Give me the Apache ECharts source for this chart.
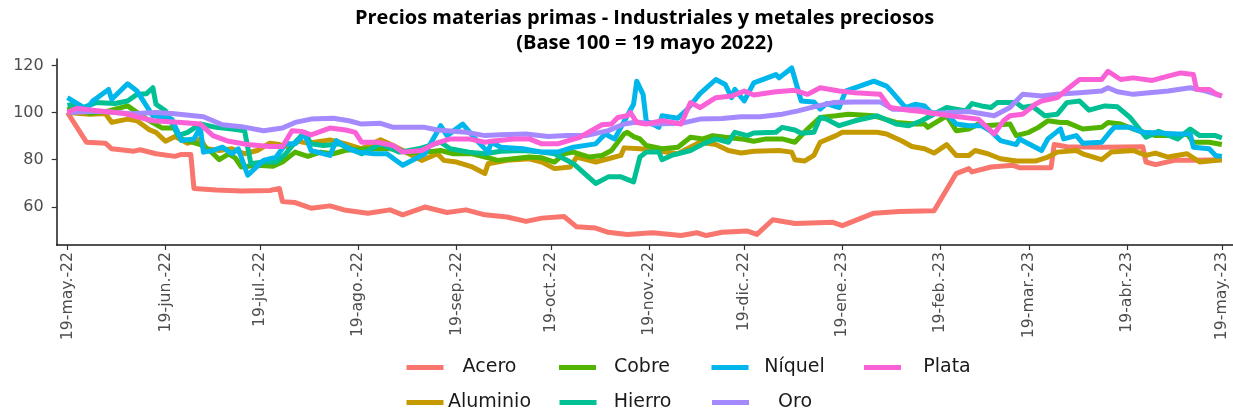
<!DOCTYPE html>
<html>
<head>
<meta charset="utf-8">
<title>Precios materias primas</title>
<script src="https://cdn.jsdelivr.net/npm/echarts@6/dist/echarts.min.js"></script>
<style>
  html, body { margin: 0; padding: 0; background: #ffffff; }
  #chart { width: 1233px; height: 415px; }
</style>
</head>
<body>
<div id="chart"></div>
<script>
// Índices de precios (base 100 = 19 mayo 2022).
// Cada punto: [días desde el 19-may-2022, índice]
const BASE_DATE = '2022-05-19';

const acero = [[0,100],[6,87.4],[12,87],[14,84.6],[21,83.6],[23,84.2],[28,82.5],[34,81.4],[36,82.2],[39,82.2],
  [40,67.8],[47,67.1],[55,66.7],[64,66.9],[67,67.8],[68,62.2],[72,61.8],[77,59.4],[83,60.4],[88,58.5],
  [95,57.3],[102,58.7],[106,56.6],[113,59.9],[120,57.6],[126,58.7],[132,56.6],[139,55.7],[145,53.8],[150,55.2],
  [157,55.9],[161,51.5],[167,51],[171,49.2],[177,48.3],[185,49],[194,47.8],[199,49],[202,47.8],[207,49.2],
  [215,49.7],[218,48.3],[223,54.5],[230,52.9],[242,53.4],[245,52],[255,57.3],[263,58],[274,58.3],[281,74.1],
  [285,76.2],[286,74.8],[292,76.9],[299,77.6],[301,76.6],[311,76.6],[312,86.4],[316,85.5],[327,85.3],[340,85.5],
  [341,79],[344,77.9],[350,79.7],[356,79.7],[365,80]];

const aluminio = [[0,100],[7,99.3],[12,99.6],[14,95.8],[19,97.2],[22,96.5],[26,92.6],[28,91.6],[31,87.8],[34,89.8],
  [38,87],[42,88.8],[44,84.6],[48,83.9],[52,84.6],[56,82.5],[60,83.9],[64,87],[67,86.4],[70,85.3],
  [73,87.8],[76,87],[83,88.4],[88,86.7],[93,84.6],[99,88.4],[103,86],[108,82.5],[112,79.7],[117,82.5],
  [119,79.7],[123,79],[128,76.9],[132,74.1],[133,78.3],[139,79.7],[146,80.4],[150,79],[154,76.2],[159,76.9],
  [161,81.1],[167,79],[171,80.4],[175,81.8],[176,85],[181,84.6],[186,83.9],[193,82.5],[196,84.6],[200,87.4],
  [205,86.4],[209,83.9],[213,82.8],[217,83.6],[225,83.9],[229,83.2],[230,80],[233,79.4],[236,81.8],[238,87.4],
  [243,90.2],[245,91.6],[256,91.6],[259,90.9],[264,87.8],[267,85.6],[271,84.6],[274,82.8],[278,86.4],[281,81.8],
  [285,81.8],[287,83.9],[291,82.5],[295,80.4],[300,79.4],[306,79.4],[310,81.1],[313,83.2],[319,83.9],[321,82.5],
  [327,80],[330,83.2],[337,83.9],[341,81.8],[344,82.8],[348,81.1],[354,82.5],[358,79],[365,80]];

const cobre = [[0,101],[2,102.1],[7,99.6],[13,100.7],[19,102.8],[25,97.2],[30,93.4],[34,93.4],[36,88.8],[42,86.4],
  [45,83.9],[48,80],[51,82.5],[53,80.8],[55,76.9],[60,77.6],[65,77.2],[68,79],[72,83.2],[76,81.4],
  [80,83.2],[84,82.5],[88,84],[95,84.6],[104,84.6],[108,82.8],[113,83.2],[118,83.9],[122,82.5],[128,82.5],
  [133,80.8],[136,79.7],[141,80.4],[146,81.1],[150,80.8],[154,79],[157,82.5],[160,83.2],[165,81.1],[169,81.8],
  [172,83.9],[176,90.9],[177,91.6],[179,89.8],[181,88.8],[183,86],[188,84.6],[193,85.3],[197,89.5],[201,88.8],
  [204,90.2],[208,89.5],[213,88.8],[217,87.8],[221,88.8],[226,88.8],[230,87.4],[234,93],[238,97.9],[243,98.6],
  [247,99.3],[255,98.6],[262,95.8],[268,95.1],[271,95.1],[272,93.7],[278,98.6],[281,92.3],[285,93],[288,95.1],
  [290,94.4],[298,95.1],[300,90.2],[304,91.6],[307,93.7],[310,96.5],[314,95.8],[316,95.8],[321,93],[327,93.7],
  [329,95.8],[333,95.1],[337,93],[344,90.2],[351,90.2],[354,90.9],[356,87.4],[361,87.4],[365,86.4]];

const hierro = [[0,103],[2,103.5],[5,102.1],[9,104.2],[15,103.8],[19,104.9],[22,107.7],[25,108],[27,110.5],[28,103.5],
  [31,100.7],[35,90.2],[38,91.6],[42,95.1],[47,93.7],[52,93],[56,92.3],[58,78.3],[62,79],[66,79],
  [69,82.5],[72,87.4],[75,91.6],[77,86.7],[81,86],[86,86.7],[93,82.5],[99,86.7],[105,83.2],[111,84.6],
  [118,87.4],[121,84.6],[127,83.2],[132,82.5],[137,83.6],[144,83.9],[150,83.2],[154,82.5],[160,78.3],[167,69.9],
  [171,72.7],[175,72.7],[179,70.6],[181,81.1],[183,83.2],[187,83.2],[188,80],[191,81.8],[197,83.9],[201,86.7],
  [205,88.8],[209,87.4],[211,91.6],[215,90.2],[217,91.3],[224,91.6],[226,93.7],[230,92.6],[232,91.2],[236,91.6],
  [238,97.9],[240,97.2],[244,94.4],[249,96.5],[256,98.6],[262,95.1],[266,94.4],[270,96.5],[273,98.6],[278,102.1],
  [284,100.7],[286,103.8],[289,102.8],[292,102.1],[294,104.2],[300,104.2],[302,102.1],[305,102.8],[309,98.6],[313,99.3],
  [316,104.2],[320,104.9],[323,101],[328,102.8],[332,102.4],[336,97.9],[341,89.5],[345,92],[351,88.8],[355,93],
  [358,90.2],[363,90.2],[365,89.2]];

const niquel = [[0,106.3],[6,101.4],[8,104.9],[13,109.8],[14,105.6],[19,112.2],[22,109.1],[27,98.6],[31,97.9],[33,97.2],
  [36,88.1],[40,88.8],[42,93.7],[43,83.2],[46,83.9],[49,85.3],[52,82.5],[54,84.6],[57,73.4],[62,79.7],
  [66,81.1],[69,86.7],[72,86.7],[75,90.9],[77,83.9],[83,81.8],[85,88.1],[89,84.6],[92,83.2],[97,82.5],
  [101,82.5],[106,77.6],[113,82.5],[118,94.4],[120,90.2],[125,95.1],[129,88.8],[133,83.2],[134,87.4],[137,85.3],
  [144,84.6],[150,83.2],[155,83.2],[160,85.3],[167,86.7],[170,90.9],[173,88.8],[177,98.6],[179,103.5],[180,113.3],
  [182,107.7],[183,96.5],[187,93.7],[188,98.6],[193,97.6],[196,101.4],[200,108],[205,114],[208,111.9],[210,106.3],
  [211,109.8],[214,104.9],[217,112.6],[224,116.1],[225,114.7],[229,118.9],[232,104.9],[236,104.5],[238,101.4],[240,103.8],
  [244,102.1],[246,109.1],[255,113.3],[259,111.2],[260,109.8],[265,102.1],[268,103.5],[271,102.8],[273,100],[278,99.3],
  [281,95.1],[285,94.4],[289,94.4],[292,92],[295,88.1],[300,86.4],[301,88.8],[308,83.9],[310,88.8],[313,92],
  [314,93],[315,88.8],[319,90.2],[321,87],[327,87.4],[330,92.3],[331,93.7],[336,93.7],[340,91.6],[351,90.9],
  [355,90.9],[356,85.3],[361,84.6],[363,81.8],[365,81.4]];

const oro = [[0,100],[10,100.5],[20,99.5],[28,100],[33,99.6],[43,98.2],[49,94.8],[55,94],[62,92.3],[68,93.4],
  [72,95.8],[77,97.2],[84,97.6],[89,96.5],[93,95.1],[99,95.4],[103,93.7],[113,93.7],[117,92.6],[126,91.6],
  [132,90.2],[137,90.6],[145,90.9],[152,89.8],[158,90.2],[164,90.2],[171,92.3],[176,95.1],[180,96],[185,95.1],
  [194,95.4],[200,97.2],[207,97.5],[213,98.2],[219,98.2],[226,99.3],[231,100.7],[236,102.4],[242,104.2],[249,104.5],
  [257,104.5],[261,101.4],[269,101.4],[273,99.6],[285,100.4],[293,98.6],[298,102.1],[302,107.7],[308,107],[313,107.7],
  [320,108.4],[327,109.1],[329,110.5],[332,108.8],[337,107.7],[348,109.1],[355,110.5],[360,109.1],[365,107]];

const plata = [[0,100],[3,101.8],[10,100.7],[18,99.6],[27,96.5],[36,95.8],[42,95.1],[46,90.2],[51,87.8],[57,86.4],
  [64,85.6],[68,85.6],[71,92.3],[74,92],[77,90.5],[83,93.4],[88,92.6],[91,91.6],[93,87.4],[98,87.4],
  [103,86],[106,83.2],[112,83.9],[116,86.7],[121,88.8],[127,88.8],[132,87.4],[134,87.8],[141,88.8],[146,88.8],
  [150,86.7],[155,86.7],[162,89.5],[169,94.8],[172,95.1],[174,97.9],[177,98.6],[178,100],[180,95.8],[183,95.1],
  [188,96.5],[194,95.1],[197,104.2],[200,102.1],[205,106.3],[210,107],[214,109.1],[217,107.4],[224,108.8],[230,109.4],
  [234,107.7],[238,110.5],[244,109.1],[249,108.4],[257,107.7],[260,102.1],[266,101],[270,100.4],[279,98.6],[288,97.2],
  [293,90.9],[296,96.5],[298,98.6],[302,99.3],[306,103.5],[308,104.9],[313,106.3],[316,109.8],[320,114],[327,114],
  [329,117.5],[333,114],[337,114.7],[343,113.6],[348,115.4],[352,116.8],[356,116.1],[357,109.8],[361,109.8],[363,108],
  [365,107]];

// Marcas del eje X (día 19 de cada mes) y sus etiquetas
const tickDates = ['2022-05-19','2022-06-19','2022-07-19','2022-08-19','2022-09-19','2022-10-19','2022-11-19',
  '2022-12-19','2023-01-19','2023-02-19','2023-03-19','2023-04-19','2023-05-19'];
const tickLabels = ['19-may.-22','19-jun.-22','19-jul.-22','19-ago.-22','19-sep.-22','19-oct.-22','19-nov.-22',
  '19-dic.-22','19-ene.-23','19-feb.-23','19-mar.-23','19-abr.-23','19-may.-23'];
const yTicks = [60, 80, 100, 120];

const names = ['Acero', 'Aluminio', 'Cobre', 'Hierro', 'Níquel', 'Oro', 'Plata'];
const colors = ['#F8766D', '#C49A00', '#53B400', '#00C094', '#00B6EB', '#A58AFF', '#FB61D7'];
const seriesData = [acero, aluminio, cobre, hierro, niquel, oro, plata];

// El eje X trabaja en días transcurridos desde la fecha base
const DAY_MS = 86400000;
const base = Date.parse(BASE_DATE);
const tickDays = tickDates.map(s => Math.round((Date.parse(s) - base) / DAY_MS));

const axisFont = 'DejaVu Sans';
const labelColor = '#4D4D4D';

const chart = echarts.init(document.getElementById('chart'), null, { renderer: 'canvas' });

const legendCommon = {
  orient: 'horizontal',
  left: 401.5,
  icon: 'rect',
  itemWidth: 37,
  itemHeight: 5,
  itemGap: 28.5,
  selectedMode: false,
  itemStyle: { borderWidth: 0 },
  formatter: '{t|{name}}',
  textStyle: {
    rich: {
      t: { width: 82, align: 'center', fontFamily: axisFont, fontSize: 19, color: '#1a1a1a', lineHeight: 24 }
    }
  }
};

const titleStyle = {
  font: 'bold 20px "Open Sans", sans-serif', fill: '#000000',
  align: 'center', verticalAlign: 'middle'
};

chart.setOption({
  animation: false,
  backgroundColor: '#ffffff',
  color: colors,
  graphic: [
    {
      type: 'text', x: 644.6, y: 18,
      style: Object.assign({ text: 'Precios materias primas - Industriales y metales preciosos' }, titleStyle)
    },
    {
      type: 'text', x: 644.6, y: 43,
      style: Object.assign({ text: '(Base 100 = 19 mayo 2022)' }, titleStyle)
    }
  ],
  legend: [
    Object.assign({}, legendCommon, { top: 353, data: ['Acero', 'Cobre', 'Níquel', 'Plata'] }),
    Object.assign({}, legendCommon, { top: 388, data: ['Aluminio', 'Hierro', 'Oro'] })
  ],
  grid: {
    left: 56.7, top: 59, width: 1175.9, height: 186,
    containLabel: false
  },
  xAxis: {
    type: 'value',
    min: -3.4,
    max: 368.4,
    splitLine: { show: false },
    axisLine: { onZero: false, lineStyle: { color: '#1a1a1a', width: 1.5 } },
    axisTick: { show: true, length: 5, lineStyle: { color: '#333333', width: 1.2 }, customValues: tickDays },
    axisLabel: {
      customValues: tickDays,
      rotate: 90,
      margin: 7,
      fontFamily: axisFont,
      fontSize: 15.7,
      color: labelColor,
      formatter: v => {
        const i = tickDays.indexOf(v);
        return i >= 0 ? tickLabels[i] : '';
      }
    }
  },
  yAxis: {
    type: 'value',
    min: 43.8,
    max: 122.7,
    splitLine: { show: false },
    axisLine: { show: true, onZero: false, lineStyle: { color: '#1a1a1a', width: 1.5 } },
    axisTick: { show: true, length: 5, lineStyle: { color: '#333333', width: 1.2 }, customValues: yTicks },
    axisLabel: {
      customValues: yTicks,
      margin: 13,
      fontFamily: axisFont,
      fontSize: 16,
      color: labelColor,
      padding: [4, 0, 0, 0]
    }
  },
  series: names.map((name, i) => ({
    name: name,
    type: 'line',
    showSymbol: false,
    symbol: 'none',
    smooth: false,
    lineStyle: { width: 5, color: colors[i], join: 'round', cap: 'butt' },
    itemStyle: { color: colors[i] },
    emphasis: { disabled: true },
    data: seriesData[i]
  }))
});
</script>
</body>
</html>
